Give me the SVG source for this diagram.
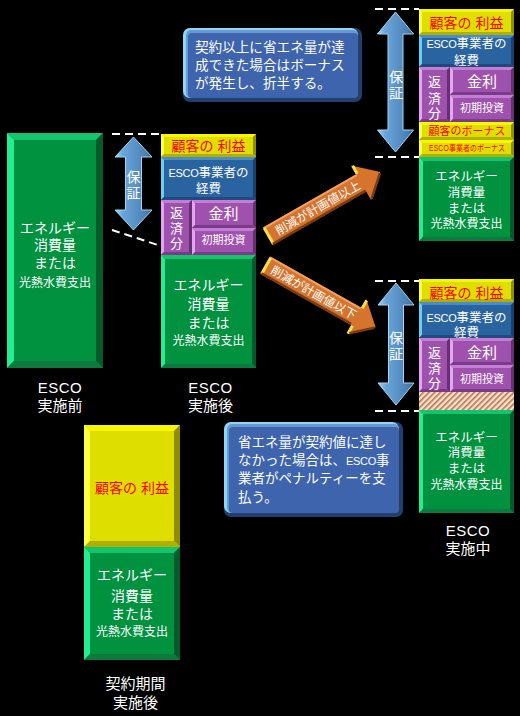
<svg xmlns="http://www.w3.org/2000/svg" width="520" height="716" viewBox="0 0 520 716">
<defs>
<style>
.f{font-family:"Liberation Sans","Noto Sans CJK JP",sans-serif}
.c{text-anchor:middle}
.wt{fill:#fff}
.rd{fill:#ff0000}
.es{font-size:11px;letter-spacing:-0.3px}
.lab{font-family:"Liberation Sans","Noto Sans CJK JP",sans-serif;fill:#fff;font-size:15px;text-anchor:middle}
.dash{stroke:#fff;stroke-width:2;stroke-dasharray:8 5;fill:none}
.g{fill:#00923f}.gt{fill:#14c46e}.gl{fill:#22ee92}.gr{fill:#055a2c}.gd{fill:#0c7a3c}
.y{fill:#dede00}.yt{fill:#f6f600}.yl{fill:#ffff44}.yr{fill:#8e8e00}.yd{fill:#b0b000}
.b{fill:#2a64a0}.bt{fill:#4a8cc8}.bl{fill:#66d0f4}.br{fill:#1a4070}.bd{fill:#1e4a7c}
.p{fill:#9e52ad}.pt{fill:#c47dd4}.pl{fill:#e4a4f2}.pr{fill:#64306f}.pd{fill:#7a3c88}
.dbl{fill:url(#dblg);stroke:#9fd6f2;stroke-width:1}
.oa{fill:#d6742e}
.oy{stroke:#f4e04a;stroke-width:3;fill:none}
.ol{stroke:#f0a060;stroke-width:2;fill:none}
.od{stroke:#7a3c14;stroke-width:2.5;fill:none}
</style>
<linearGradient id="dblg" x1="0" y1="0" x2="1" y2="0">
<stop offset="0" stop-color="#a8dcf5"/>
<stop offset="0.2" stop-color="#6aa6da"/>
<stop offset="0.55" stop-color="#5a92c8"/>
<stop offset="0.85" stop-color="#4a7eb4"/>
<stop offset="1" stop-color="#2f5a86"/>
</linearGradient>
<pattern id="hatch" width="4" height="4" patternUnits="userSpaceOnUse" patternTransform="rotate(45)">
<rect width="4" height="4" fill="#f0e4d8"/>
<rect width="1.6" height="4" fill="#c8703e"/>
</pattern>
</defs>
<rect width="520" height="716" fill="#000"/>

<!-- Left block: before ESCO -->
<g id="before">
<rect class="g" x="7" y="133" width="96" height="235"/>
<polygon class="gt" points="7,133 103,133 96,140 14,140"/>
<polygon class="gl" points="7,133 14,140 14,361 7,368"/>
<polygon class="gr" points="103,133 103,368 96,361 96,140"/>
<polygon class="gd" points="7,368 103,368 96,361 14,361"/>
<text class="f wt c" x="55" y="232.5" font-size="14">エネルギー</text>
<text class="f wt c" x="55" y="249.5" font-size="14">消費量</text>
<text class="f wt c" x="55" y="268" font-size="14">または</text>
<text class="f wt c" x="55" y="286.5" font-size="12">光熱水費支出</text>
<text class="lab" x="60" y="392.5" letter-spacing="0.5">ESCO</text>
<text class="lab" x="60" y="410.5">実施前</text>
</g>

<!-- Middle stack: after ESCO -->
<g id="after">
<rect class="y" x="161" y="134" width="95" height="23"/>
<polygon class="yt" points="161,134 256,134 253,137 164,137"/>
<polygon class="yl" points="161,134 164,137 164,154 161,157"/>
<polygon class="yr" points="256,134 256,157 253,154 253,137"/>
<polygon class="yd" points="161,157 256,157 253,154 164,154"/>
<text class="f rd c" x="208.5" y="150.5" font-size="14">顧客の 利益</text>

<rect class="b" x="161" y="157" width="95" height="43"/>
<polygon class="bt" points="161,157 256,157 253,160 164,160"/>
<polygon class="bl" points="161,157 164,160 164,197 161,200"/>
<polygon class="br" points="256,157 256,200 253,197 253,160"/>
<polygon class="bd" points="161,200 256,200 253,197 164,197"/>
<text class="f wt c" x="208.5" y="177" font-size="12.5"><tspan class="es">ESCO</tspan>事業者の</text>
<text class="f wt c" x="208.5" y="193" font-size="12.5">経費</text>

<rect class="p" x="161" y="200" width="31" height="55"/>
<polygon class="pt" points="161,200 192,200 189,203 164,203"/>
<polygon class="pl" points="161,200 164,203 164,252 161,255"/>
<polygon class="pr" points="192,200 192,255 189,252 189,203"/>
<polygon class="pd" points="161,255 192,255 189,252 164,252"/>
<text class="f wt c" font-size="13"><tspan x="176.5" y="217">返</tspan><tspan x="176.5" y="233">済</tspan><tspan x="176.5" y="248">分</tspan></text>

<rect class="p" x="192" y="200" width="64" height="28"/>
<polygon class="pt" points="192,200 256,200 253,203 195,203"/>
<polygon class="pl" points="192,200 195,203 195,225 192,228"/>
<polygon class="pr" points="256,200 256,228 253,225 253,203"/>
<polygon class="pd" points="192,228 256,228 253,225 195,225"/>
<text class="f wt c" x="223.5" y="219" font-size="15">金利</text>

<rect class="p" x="192" y="228" width="64" height="27"/>
<polygon class="pt" points="192,228 256,228 253,231 195,231"/>
<polygon class="pl" points="192,228 195,231 195,252 192,255"/>
<polygon class="pr" points="256,228 256,255 253,252 253,231"/>
<polygon class="pd" points="192,255 256,255 253,252 195,252"/>
<text class="f wt c" x="223.5" y="244" font-size="11">初期投資</text>

<rect class="g" x="161" y="255" width="95" height="113"/>
<polygon class="gt" points="161,255 256,255 252,259 165,259"/>
<polygon class="gl" points="161,255 165,259 165,364 161,368"/>
<polygon class="gr" points="256,255 256,368 252,364 252,259"/>
<polygon class="gd" points="161,368 256,368 252,364 165,364"/>
<text class="f wt c" x="208.5" y="289.5" font-size="14">エネルギー</text>
<text class="f wt c" x="208.5" y="309" font-size="14">消費量</text>
<text class="f wt c" x="208.5" y="327.5" font-size="14">または</text>
<text class="f wt c" x="208.5" y="344.5" font-size="12">光熱水費支出</text>
<text class="lab" x="210.5" y="392.5" letter-spacing="0.5">ESCO</text>
<text class="lab" x="210.5" y="410.5">実施後</text>
</g>

<!-- Top-right stack: savings above plan -->
<g id="above-plan">
<rect class="y" x="419" y="9" width="95" height="26"/>
<polygon class="yt" points="419,9 514,9 511,12 422,12"/>
<polygon class="yl" points="419,9 422,12 422,32 419,35"/>
<polygon class="yr" points="514,9 514,35 511,32 511,12"/>
<polygon class="yd" points="419,35 514,35 511,32 422,32"/>
<text class="f rd c" x="466.5" y="27.5" font-size="14">顧客の 利益</text>

<rect class="b" x="419" y="35" width="95" height="32"/>
<polygon class="bt" points="419,35 514,35 511,38 422,38"/>
<polygon class="bl" points="419,35 422,38 422,64 419,67"/>
<polygon class="br" points="514,35 514,67 511,64 511,38"/>
<polygon class="bd" points="419,67 514,67 511,64 422,64"/>
<text class="f wt c" x="466.5" y="48" font-size="12.5"><tspan class="es">ESCO</tspan>事業者の</text>
<text class="f wt c" x="466.5" y="65" font-size="12.5">経費</text>

<rect class="p" x="419" y="67" width="31" height="55"/>
<polygon class="pt" points="419,67 450,67 447,70 422,70"/>
<polygon class="pl" points="419,67 422,70 422,119 419,122"/>
<polygon class="pr" points="450,67 450,122 447,119 447,70"/>
<polygon class="pd" points="419,122 450,122 447,119 422,119"/>
<text class="f wt c" font-size="13"><tspan x="434.5" y="86">返</tspan><tspan x="434.5" y="103">済</tspan><tspan x="434.5" y="117.5">分</tspan></text>

<rect class="p" x="450" y="67" width="64" height="28"/>
<polygon class="pt" points="450,67 514,67 511,70 453,70"/>
<polygon class="pl" points="450,67 453,70 453,92 450,95"/>
<polygon class="pr" points="514,67 514,95 511,92 511,70"/>
<polygon class="pd" points="450,95 514,95 511,92 453,92"/>
<text class="f wt c" x="482" y="86.5" font-size="15">金利</text>

<rect class="p" x="450" y="95" width="64" height="27"/>
<polygon class="pt" points="450,95 514,95 511,98 453,98"/>
<polygon class="pl" points="450,95 453,98 453,119 450,122"/>
<polygon class="pr" points="514,95 514,122 511,119 511,98"/>
<polygon class="pd" points="450,122 514,122 511,119 453,119"/>
<text class="f wt c" x="482" y="111.5" font-size="11">初期投資</text>

<rect class="y" x="419" y="122" width="95" height="18"/>
<polygon class="yt" points="419,122 514,122 511,125 422,125"/>
<polygon class="yl" points="419,122 422,125 422,137 419,140"/>
<polygon class="yr" points="514,122 514,140 511,137 511,125"/>
<polygon class="yd" points="419,140 514,140 511,137 422,137"/>
<text class="f rd c" x="467" y="134.5" font-size="11">顧客のボーナス</text>

<rect class="y" x="419" y="140" width="95" height="17"/>
<polygon class="yt" points="419,140 514,140 511,143 422,143"/>
<polygon class="yl" points="419,140 422,143 422,154 419,157"/>
<polygon class="yr" points="514,140 514,157 511,154 511,143"/>
<polygon class="yd" points="419,157 514,157 511,154 422,154"/>
<text class="f rd c" x="467" y="151" font-size="8.5" textLength="76" lengthAdjust="spacingAndGlyphs">ESCO事業者のボーナス</text>

<rect class="g" x="419" y="157" width="95" height="84"/>
<polygon class="gt" points="419,157 514,157 510,161 423,161"/>
<polygon class="gl" points="419,157 423,161 423,237 419,241"/>
<polygon class="gr" points="514,157 514,241 510,237 510,161"/>
<polygon class="gd" points="419,241 514,241 510,237 423,237"/>
<text class="f wt c" x="466.5" y="180.5" font-size="12.5">エネルギー</text>
<text class="f wt c" x="466.5" y="196.5" font-size="12.5">消費量</text>
<text class="f wt c" x="466.5" y="212.5" font-size="12.5">または</text>
<text class="f wt c" x="466.5" y="227.5" font-size="12">光熱水費支出</text>
</g>

<!-- Bottom-right stack: savings below plan -->
<g id="below-plan">
<rect class="y" x="419" y="279" width="95" height="23"/>
<polygon class="yt" points="419,279 514,279 511,282 422,282"/>
<polygon class="yl" points="419,279 422,282 422,299 419,302"/>
<polygon class="yr" points="514,279 514,302 511,299 511,282"/>
<polygon class="yd" points="419,302 514,302 511,299 422,299"/>
<text class="f rd c" x="466.5" y="297.5" font-size="14">顧客の 利益</text>

<rect class="b" x="419" y="302" width="95" height="36"/>
<polygon class="bt" points="419,302 514,302 511,305 422,305"/>
<polygon class="bl" points="419,302 422,305 422,335 419,338"/>
<polygon class="br" points="514,302 514,338 511,335 511,305"/>
<polygon class="bd" points="419,338 514,338 511,335 422,335"/>
<text class="f wt c" x="466.5" y="322" font-size="12.5"><tspan class="es">ESCO</tspan>事業者の</text>
<text class="f wt c" x="466.5" y="337" font-size="12.5">経費</text>

<rect class="p" x="419" y="338" width="31" height="54"/>
<polygon class="pt" points="419,338 450,338 447,341 422,341"/>
<polygon class="pl" points="419,338 422,341 422,389 419,392"/>
<polygon class="pr" points="450,338 450,392 447,389 447,341"/>
<polygon class="pd" points="419,392 450,392 447,389 422,389"/>
<text class="f wt c" font-size="13"><tspan x="434.5" y="357">返</tspan><tspan x="434.5" y="373">済</tspan><tspan x="434.5" y="387.5">分</tspan></text>

<rect class="p" x="450" y="338" width="64" height="27"/>
<polygon class="pt" points="450,338 514,338 511,341 453,341"/>
<polygon class="pl" points="450,338 453,341 453,362 450,365"/>
<polygon class="pr" points="514,338 514,365 511,362 511,341"/>
<polygon class="pd" points="450,365 514,365 511,362 453,362"/>
<text class="f wt c" x="482" y="358" font-size="15">金利</text>

<rect class="p" x="450" y="365" width="64" height="27"/>
<polygon class="pt" points="450,365 514,365 511,368 453,368"/>
<polygon class="pl" points="450,365 453,368 453,389 450,392"/>
<polygon class="pr" points="514,365 514,392 511,389 511,368"/>
<polygon class="pd" points="450,392 514,392 511,389 453,389"/>
<text class="f wt c" x="482" y="382.5" font-size="11">初期投資</text>

<rect x="419" y="392" width="95" height="18" fill="url(#hatch)"/>

<rect class="g" x="419" y="410" width="95" height="103"/>
<polygon class="gt" points="419,410 514,410 510,414 423,414"/>
<polygon class="gl" points="419,410 423,414 423,509 419,513"/>
<polygon class="gr" points="514,410 514,513 510,509 510,414"/>
<polygon class="gd" points="419,513 514,513 510,509 423,509"/>
<text class="f wt c" x="466.5" y="442" font-size="12.5">エネルギー</text>
<text class="f wt c" x="466.5" y="457" font-size="12.5">消費量</text>
<text class="f wt c" x="466.5" y="472.5" font-size="12.5">または</text>
<text class="f wt c" x="466.5" y="489" font-size="12">光熱水費支出</text>
<text class="lab" x="468" y="535.5" letter-spacing="0.5">ESCO</text>
<text class="lab" x="468" y="553.5">実施中</text>
</g>

<!-- Bottom stack: after contract period -->
<g id="after-contract">
<rect class="y" x="84" y="425" width="96" height="122"/>
<polygon class="yt" points="84,425 180,425 174,431 90,431"/>
<polygon class="yl" points="84,425 90,431 90,541 84,547"/>
<polygon class="yr" points="180,425 180,547 174,541 174,431"/>
<polygon class="yd" points="84,547 180,547 174,541 90,541"/>
<text class="f rd c" x="132" y="493" font-size="14">顧客の 利益</text>

<rect class="g" x="84" y="547" width="96" height="113"/>
<polygon class="gt" points="84,547 180,547 174,553 90,553"/>
<polygon class="gl" points="84,547 90,553 90,654 84,660"/>
<polygon class="gr" points="180,547 180,660 174,654 174,553"/>
<polygon class="gd" points="84,660 180,660 174,654 90,654"/>
<text class="f wt c" x="132" y="580" font-size="14">エネルギー</text>
<text class="f wt c" x="132" y="601" font-size="14">消費量</text>
<text class="f wt c" x="132" y="619" font-size="14">または</text>
<text class="f wt c" x="132" y="635.5" font-size="12">光熱水費支出</text>
<text class="lab" x="135.5" y="688.5">契約期間</text>
<text class="lab" x="135.5" y="707.5">実施後</text>
</g>

<!-- Callouts -->
<g id="callout-bonus">
<rect x="183" y="28" width="179" height="74" rx="7" fill="#22406e"/>
<rect x="183" y="28" width="175" height="70" rx="7" fill="#8cd8f4"/>
<rect x="186" y="30" width="172" height="68" rx="5" fill="#6a98d0"/>
<rect x="188" y="33" width="170" height="65" rx="4" fill="#3d64ac"/>
<text class="f wt" font-size="13.6"><tspan x="195" y="52">契約以上に省エネ量が達</tspan><tspan x="195" y="70">成できた場合はボーナス</tspan><tspan x="195" y="88">が発生し、折半する。</tspan></text>
</g>

<g id="callout-penalty">
<rect x="224" y="422" width="179" height="95" rx="7" fill="#22406e"/>
<rect x="224" y="422" width="175" height="91" rx="7" fill="#8cd8f4"/>
<rect x="227" y="424" width="172" height="89" rx="5" fill="#6a98d0"/>
<rect x="229" y="427" width="170" height="86" rx="4" fill="#3d64ac"/>
<text class="f wt" font-size="13.5"><tspan x="238" y="447">省エネ量が契約値に達し</tspan><tspan x="238" y="465">なかった場合は、<tspan class="es">ESCO</tspan>事</tspan><tspan x="238" y="483">業者がペナルティーを支</tspan><tspan x="238" y="502">払う。</tspan></text>
</g>

<!-- Connectors -->
<g id="connectors">
<line class="dash" x1="112" y1="134" x2="161" y2="134"/>
<line class="dash" x1="112" y1="230" x2="161" y2="246"/>
<line class="dash" x1="375" y1="9" x2="419" y2="9"/>
<line class="dash" x1="375" y1="157" x2="419" y2="157"/>
<line class="dash" x1="375" y1="281" x2="419" y2="281"/>
<line class="dash" x1="375" y1="411" x2="419" y2="411"/>

<g id="guarantee-1">
<path class="dbl" d="M133.5,137 L152,157 L141.5,157 L141.5,210 L152,210 L133.5,230 L115,210 L125.5,210 L125.5,157 L115,157 Z"/>
<text class="f wt c" font-size="14"><tspan x="133.5" y="182">保</tspan><tspan x="133.5" y="198">証</tspan></text>
</g>
<g id="guarantee-2">
<path class="dbl" d="M395.5,12 L413.5,34 L403,34 L403,130 L413.5,130 L395.5,152 L377.5,130 L388,130 L388,34 L377.5,34 Z"/>
<text class="f wt c" font-size="14"><tspan x="396" y="82">保</tspan><tspan x="396" y="98">証</tspan></text>
</g>
<g id="guarantee-3">
<path class="dbl" d="M396,283 L414,305 L403.5,305 L403.5,383 L414,383 L396,405 L378,383 L388.5,383 L388.5,305 L378,305 Z"/>
<text class="f wt c" font-size="14"><tspan x="396" y="343">保</tspan><tspan x="396" y="359">証</tspan></text>
</g>

<g id="arrow-above" transform="translate(267.5,236.5) rotate(-29.8)">
<path class="oa" d="M0,-10 L108,-10 L108,-20 L130,0 L108,20 L108,10 L0,10 Z"/>
<path class="ol" d="M1,-9 L108,-9"/>
<path class="oy" d="M1.5,-9 L1.5,9"/>
<path class="oy" d="M109,-19 L109,-10"/>
<path class="od" d="M129,1 L109,19 M1,9 L108,9"/>
<text class="f wt c" x="58" y="4.5" font-size="12">削減が計画値以上</text>
</g>
<g id="arrow-below" transform="translate(265,265) rotate(29.4)">
<path class="oa" d="M0,-10 L105,-10 L105,-20 L127,0 L105,20 L105,10 L0,10 Z"/>
<path class="ol" d="M1,-9 L105,-9"/>
<path class="oy" d="M1.5,-9 L1.5,9"/>
<path class="oy" d="M106,-19 L106,-10 M106,10 L106,19"/>
<path class="od" d="M126,1 L107,18 M1,9 L104,9"/>
<text class="f wt c" x="56" y="4.5" font-size="12">削減が計画値以下</text>
</g>
</g>
</svg>
